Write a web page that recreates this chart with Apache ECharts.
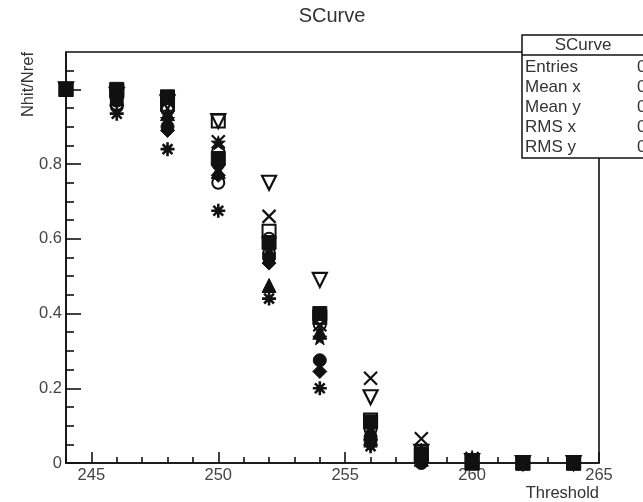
<!DOCTYPE html>
<html>
<head>
<meta charset="utf-8">
<script src="https://cdn.jsdelivr.net/npm/echarts@6/dist/echarts.min.js"></script>
<style>html,body{margin:0;padding:0;background:#fff}#c{width:643px;height:502px}</style>
</head>
<body>
<div id="c"></div>
<script>
// Threshold values (x)
var thresholds = [244, 246, 248, 250, 252, 254, 256, 258, 260, 262, 264];
// Nhit/Nref per channel (one array per marker style)
var chAsterisk   = [1.00, 0.935, 0.84, 0.675, 0.44, 0.20, 0.045, 0.005, 0, 0, 0];
var chTriDown    = [1.00, 0.985, 0.965, 0.915, 0.75, 0.49, 0.176, 0.03, 0.005, 0, 0];
var chCross      = [1.00, 0.99, 0.975, 0.86, 0.66, 0.37, 0.227, 0.065, 0.012, 0, 0];
var chSqOpen     = [1.00, 0.995, 0.96, 0.915, 0.62, 0.39, 0.115, 0.025, 0.005, 0, 0];
var chTriUp      = [1.00, 0.975, 0.935, 0.78, 0.475, 0.35, 0.08, 0.01, 0, 0, 0];
var chCircle     = [1.00, 0.97, 0.90, 0.80, 0.55, 0.275, 0.06, 0.0, 0, 0, 0];
var chSquare     = [1.00, 1.00, 0.98, 0.815, 0.59, 0.40, 0.11, 0.02, 0, 0, 0];
var chDiamond    = [1.00, 0.98, 0.89, 0.77, 0.535, 0.245, 0.05, 0.005, 0, 0, 0];
var chCircOpen   = [1.00, 0.955, 0.95, 0.75, 0.56, 0.37, 0.09, 0.01, 0, 0, 0];
var chStar       = [1.00, 0.99, 0.92, 0.857, 0.575, 0.335, 0.10, 0.035, 0.015, 0, 0];
var chCircOpen2  = [1.00, 0.96, 0.945, 0.835, 0.60, 0.385, 0.07, 0.015, 0, 0, 0];

// Tick labels
var xMajorTicks = [245, 250, 255, 260, 265];
var xMinorTicks = [244, 246, 247, 248, 249, 251, 252, 253, 254, 256, 257, 258, 259, 261, 262, 263, 264];
var yMajorTicks = [0, 0.2, 0.4, 0.6, 0.8, 1.0];
var yLabels     = [0, 0.2, 0.4, 0.6, 0.8];
var yMinorTicks = [0.05, 0.1, 0.15, 0.25, 0.3, 0.35, 0.45, 0.5, 0.55, 0.65, 0.7, 0.75, 0.85, 0.9, 0.95, 1.05];

var statsRows = [['Entries', '0'], ['Mean x', '0'], ['Mean y', '0'], ['RMS x', '0'], ['RMS y', '0']];

var FONT = "'Liberation Sans', Arial, Helvetica, sans-serif";
var INK = '#111';

var SYM_AST = 'path://M6,0L6,12M0,6L12,6M1.8,1.8L10.2,10.2M1.8,10.2L10.2,1.8';
var SYM_X = 'path://M0,0L12,12M0,12L12,0';
var SYM_STAR = 'path://M6,0L7.41,4.06L11.71,4.15L8.28,6.74L9.53,10.85L6,8.4L2.47,10.85L3.72,6.74L0.29,4.15L4.59,4.06Z';

function pts(arr) {
  return thresholds.map(function (t, i) { return [t, arr[i]]; });
}
function filled(name, arr, symbol, size, rot) {
  return {
    name: name, type: 'scatter', data: pts(arr), symbol: symbol, symbolSize: size,
    symbolRotate: rot || 0, clip: false,
    itemStyle: { color: INK, borderColor: INK, borderWidth: 1, opacity: 1 }
  };
}
function open(name, arr, symbol, size, rot, bw) {
  return {
    name: name, type: 'scatter', data: pts(arr), symbol: symbol, symbolSize: size,
    symbolRotate: rot || 0, clip: false,
    itemStyle: { color: 'rgba(0,0,0,0)', borderColor: INK, borderWidth: bw || 2, opacity: 1 }
  };
}

var series = [
  open('circOpen', chCircOpen, 'circle', 12),
  open('circOpen2', chCircOpen2, 'circle', 12),
  open('sqOpen', chSqOpen, 'rect', 13),
  filled('circle', chCircle, 'circle', 13),
  filled('square', chSquare, 'rect', 14),
  filled('triUp', chTriUp, 'triangle', 14),
  filled('diamond', chDiamond, 'diamond', 14),
  filled('star', chStar, SYM_STAR, 14),
  open('cross', chCross, SYM_X, 13, 0, 2.2),
  open('triDown', chTriDown, 'triangle', 14, 180, 2.2),
  open('asterisk', chAsterisk, SYM_AST, 14, 0, 2.6)
];

var graphics = [
  { type: 'text', z: 100, style: { text: 'SCurve', x: 332, y: 16, align: 'center', verticalAlign: 'middle',
      font: '20px ' + FONT, fill: '#333' } },
  { type: 'text', z: 100, rotation: Math.PI / 2, x: 28, y: 52,
      style: { text: 'Nhit/Nref', x: 0, y: 0, align: 'right', verticalAlign: 'middle', font: '16.5px ' + FONT, fill: '#333' } },
  { type: 'text', z: 100, style: { text: 'Threshold', x: 599, y: 493, align: 'right', verticalAlign: 'middle',
      font: '16.5px ' + FONT, fill: '#333' } },
  { type: 'rect', z: 100, shape: { x: 522, y: 35, width: 124, height: 123 },
      style: { fill: '#fff', stroke: INK, lineWidth: 1.5 } },
  { type: 'line', z: 101, shape: { x1: 522, y1: 55, x2: 646, y2: 55 },
      style: { stroke: INK, lineWidth: 1.5 } },
  { type: 'text', z: 101, style: { text: 'SCurve', x: 583, y: 45, align: 'center', verticalAlign: 'middle',
      font: '17px ' + FONT, fill: '#333' } }
];
statsRows.forEach(function (r, i) {
  var y = 67 + i * 20;
  graphics.push({ type: 'text', z: 101, style: { text: r[0], x: 525, y: y, align: 'left', verticalAlign: 'middle', font: '17px ' + FONT, fill: '#333' } });
  graphics.push({ type: 'text', z: 101, style: { text: r[1], x: 637, y: y, align: 'left', verticalAlign: 'middle', font: '17px ' + FONT, fill: '#333' } });
});

var axisTextStyle = { fontSize: 16.5, fontFamily: FONT, color: '#444' };

var option = {
  animation: false,
  backgroundColor: '#fff',
  grid: { left: 66, top: 52, right: 44, bottom: 39, show: true, borderColor: INK, borderWidth: 1.6, backgroundColor: 'transparent' },
  xAxis: [
    {
      type: 'value', min: 244, max: 265, position: 'bottom',
      axisLine: { show: true, lineStyle: { color: INK, width: 1.6 } },
      axisTick: { show: true, inside: true, length: 11, customValues: xMajorTicks, lineStyle: { color: INK, width: 1.6 } },
      axisLabel: Object.assign({ show: true, margin: 4, customValues: xMajorTicks }, axisTextStyle),
      splitLine: { show: false }
    },
    {
      type: 'value', min: 244, max: 265, position: 'bottom',
      axisLine: { show: false },
      axisTick: { show: true, inside: true, length: 6, customValues: xMinorTicks, lineStyle: { color: INK, width: 1.6 } },
      axisLabel: { show: false },
      splitLine: { show: false }
    }
  ],
  yAxis: [
    {
      type: 'value', min: 0, max: 1.1, position: 'left',
      axisLine: { show: true, lineStyle: { color: INK, width: 1.6 } },
      axisTick: { show: true, inside: true, length: 15, customValues: yMajorTicks, lineStyle: { color: INK, width: 1.6 } },
      axisLabel: Object.assign({ show: true, margin: 4, customValues: yLabels }, axisTextStyle),
      splitLine: { show: false }
    },
    {
      type: 'value', min: 0, max: 1.1, position: 'left',
      axisLine: { show: false },
      axisTick: { show: true, inside: true, length: 8, customValues: yMinorTicks, lineStyle: { color: INK, width: 1.6 } },
      axisLabel: { show: false },
      splitLine: { show: false }
    }
  ],
  series: series,
  graphic: graphics
};

var chart = echarts.init(document.getElementById('c'), null, { renderer: 'canvas' });
chart.setOption(option);
</script>
</body>
</html>
